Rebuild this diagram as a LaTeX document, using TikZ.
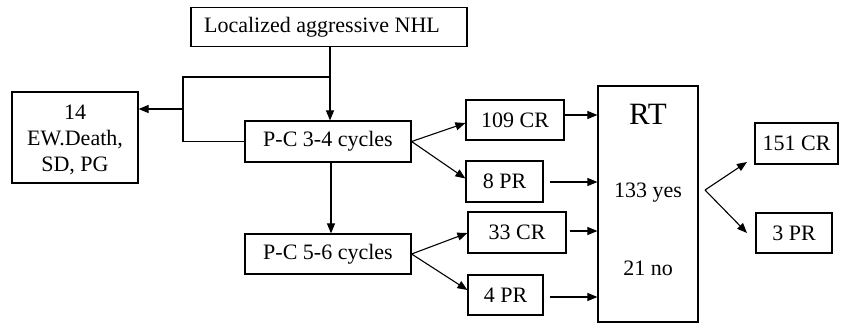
\documentclass[tikz,border=0pt]{standalone}
\usepackage{fontspec}
\setmainfont{Liberation Serif}
\usetikzlibrary{arrows.meta,calc}
\begin{document}
\begin{tikzpicture}[x=1pt,y=-1pt,
  box/.style={draw,line width=1.2pt,rectangle,inner sep=0pt,align=center,font=\fontsize{22}{26}\selectfont},
  lbl/.style={font=\fontsize{22}{26}\selectfont,align=center,inner sep=0pt},
  conn/.style={line width=1.1pt},
  arr/.style={conn,-{Triangle[length=10pt,width=8pt]}}]
\useasboundingbox (0,0) rectangle (843,324);
\node[box,minimum width=276pt,minimum height=39pt] (top) at (329,27) {};
\node[lbl] (topl) at (322,27) {Localized aggressive NHL};
\node[box,minimum width=126pt,minimum height=91pt] (left) at (75,137.5) {};
\node[lbl] (leftl) at (75,140) {14\\EW.Death,\\SD, PG};
\node[box,minimum width=166pt,minimum height=41pt] (pc34) at (328,141.5) {P-C 3-4 cycles};
\node[box,minimum width=166pt,minimum height=40pt] (pc56) at (328,254) {P-C 5-6 cycles};
\node[box,minimum width=98pt,minimum height=40pt] (cr109) at (515,120) {109 CR};
\node[box,minimum width=77pt,minimum height=41pt] (pr8) at (504.5,181.5) {8 PR};
\node[box,minimum width=98pt,minimum height=41pt] (cr33) at (517,232.5) {33 CR};
\node[box,minimum width=75pt,minimum height=40pt] (pr4) at (505.5,295) {4 PR};
\node[box,minimum width=100pt,minimum height=236pt] (rt) at (648,204) {};
\node[font=\fontsize{31}{34}\selectfont] (rtl) at (648,114) {RT};
\node[lbl] (yes) at (648,193) {133 yes};
\node[lbl] (no) at (648,268) {21 no};
\node[box,minimum width=83pt,minimum height=41pt] (cr151) at (796.5,143.5) {151 CR};
\node[box,minimum width=76pt,minimum height=40pt] (pr3) at (794,233) {3 PR};
% connectors
\coordinate (j1) at (330,77);
\coordinate (j2) at (183,77);
\coordinate (j4) at (183,109);
\draw[arr] (top.south -| j1) -- (j1 |- pc34.north);
\draw[conn] (j1) -- (j2) -- (j2 |- pc34.west) -- (pc34.west);
\draw[arr] (j4) -- (j4 -| left.east);
\draw[arr] ($(pc34.south)+(3,0)$) -- ($(pc56.north)+(3,0)$);
\draw[arr] (pc34.east) -- ($(cr109.west)+(0,3)$);
\draw[arr] (pc34.east) -- ($(pr8.west)+(0,-3)$);
\draw[arr] (pc56.east) -- ($(cr33.west)+(0,0.5)$);
\draw[arr] (pc56.east) -- ($(pr4.west)+(0,-5)$);
\coordinate (a1) at ($(cr109.east)+(0,-5)$);
\coordinate (a2) at ($(pr8.east)+(0,0.5)$);
\coordinate (a3) at ($(cr33.east)+(0,-1.5)$);
\coordinate (a4) at ($(pr4.east)+(0,2)$);
\draw[arr] (a1) -- (a1 -| rt.west);
\draw[arr,shorten <=6pt] (a2) -- (a2 -| rt.west);
\draw[arr,shorten <=3pt] (a3) -- (a3 -| rt.west);
\draw[arr,shorten <=6pt] (a4) -- (a4 -| rt.west);
\coordinate (v) at (705,190);
\coordinate (t1) at (747,162);
\coordinate (t2) at (747,233);
\draw[arr] (v) -- (t1);
\draw[arr] (v) -- (t2);
\end{tikzpicture}
\end{document}
